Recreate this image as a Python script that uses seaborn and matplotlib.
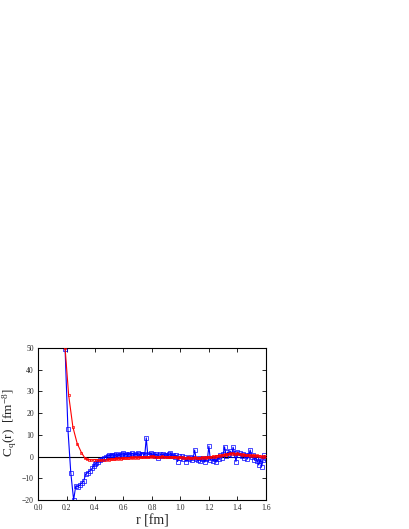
import numpy as np
import pandas as pd
import matplotlib
matplotlib.use('Agg')
import matplotlib.pyplot as plt
import seaborn as sns

# blue series (open squares)
r_blue_head = [0.19, 0.21, 0.23, 0.25, 0.265, 0.28, 0.295, 0.31, 0.32, 0.335, 0.35,
               0.365, 0.38, 0.39, 0.40, 0.41, 0.42, 0.435, 0.45, 0.465, 0.48, 0.49]
c_blue_head = [49.5, 12.5, -7.5, -20.0, -13.5, -14.0, -13.0, -12.0, -11.5, -8.0, -7.5,
               -6.5, -5.5, -4.5, -3.5, -3.0, -2.5, -1.8, -1.0, -0.5, 0.0, 0.3]
c_blue_tail = [0.5, 0.3, 0.8, 0.6, 0.2, 1.0, 0.7, 0.4, 1.2, 0.9,
               1.5, 0.8, 1.1, 0.5, 1.3, 0.9, 1.6, 0.7, 1.2, 0.8,
               1.4, 1.0, 0.6, 1.3, 1.1, 0.8, 8.6, 1.2, 0.9, 1.5,
               0.7, 1.1, 0.4, 1.3, -0.8, 0.6, 1.0, 0.3, 1.2, 0.5,
               0.9, 0.2, 1.0, 1.5, 0.4, 0.8, -0.3, 0.6, -2.3, 0.2,
               -0.5, 0.3, -1.0, -0.4, -2.3, -0.8, -1.2, -0.2, -1.5, -0.6,
               3.0, -1.0, -1.8, -0.7, -2.0, -1.1, -0.5, -2.6, -1.3, -0.8,
               4.8, -1.5, -0.6, -1.9, -1.0, -2.6, -0.4, -1.2, 0.5, -0.8,
               1.0, 4.5, 0.3, 2.0, 1.2, 2.5, 0.8, 4.3, 1.5, -2.3,
               2.0, 0.9, 1.6, 0.4, 1.2, -0.5, 0.8, -1.2, 0.5, 3.0,
               -0.3, 0.6, -1.5, -0.6, -2.0, -3.9, -1.0, -4.6, -1.8, 0.5,
               -0.5]

# red series
r_red_head = [0.19, 0.215, 0.245, 0.275, 0.305, 0.33, 0.345, 0.36, 0.375, 0.39,
              0.405, 0.42, 0.435, 0.45, 0.465, 0.48, 0.49]
c_red_head = [50.0, 28.3, 13.5, 6.0, 1.8, -0.8, -1.3, -1.5, -1.6, -1.5,
              -1.4, -1.6, -1.8, -1.7, -1.5, -1.6, -1.3]
c_red_tail = [-1.4, -1.1, -1.3, -1.0, -1.2, -0.9, -1.1, -0.8, -1.0, -0.7,
              -0.9, -0.6, -0.8, -0.5, -0.7, -0.4, -0.6, -0.4, -0.5, -0.3,
              -0.5, -0.2, -0.4, -0.1, -0.3, -0.1, -0.2, 0.0, -0.2, 0.1,
              -0.1, 0.1, -0.2, 0.0, -0.3, 0.0, -0.2, 0.1, -0.1, 0.0,
              -0.2, 0.0, -0.3, -0.1, -0.2, -0.4, -0.1, -0.3, -0.5, -0.2,
              -0.4, -0.6, -0.3, -0.5, -0.7, -0.4, -0.6, -0.8, -0.5, -0.7,
              -0.4, -0.6, -0.8, -0.5, -0.7, -0.4, -0.6, -0.3, -0.5, -0.2,
              -0.4, 0.0, -0.2, 0.2, 0.0, 0.4, 0.2, 0.6, 0.4, 0.8,
              0.6, 1.0, 0.8, 1.2, 1.0, 1.4, 1.2, 1.5, 1.3, 1.2,
              1.4, 1.0, 1.2, 0.8, 1.0, 0.6, 0.9, 0.5, 0.8, 0.4,
              0.7, 0.3, 0.6, 0.2, 0.5, 0.1, 0.4, 0.0, 0.3, -0.1,
              0.2]

r_tail = np.round(np.arange(0.50, 1.605, 0.01), 2)

blue = pd.DataFrame({'r': list(r_blue_head) + list(r_tail), 'C': c_blue_head + c_blue_tail})
red = pd.DataFrame({'r': list(r_red_head) + list(r_tail), 'C': c_red_head + c_red_tail})

sns.set_style('ticks')
plt.rcParams['font.family'] = ['Liberation Serif', 'DejaVu Serif']
plt.rcParams['mathtext.fontset'] = 'stix'

fig = plt.figure(figsize=(4.09, 5.29), dpi=100)
ax = fig.add_axes([0.093, 0.055, 0.557, 0.287])

ax.axhline(0, color='black', lw=0.8, zorder=1)
sns.lineplot(data=blue, x='r', y='C', ax=ax, color='blue', lw=0.8, marker='s',
             markersize=2.4, markerfacecolor='none', markeredgecolor='blue',
             markeredgewidth=0.5, estimator=None, sort=False, zorder=2)
sns.lineplot(data=red, x='r', y='C', ax=ax, color='red', lw=0.8, marker='s',
             markersize=2, markerfacecolor='none', markeredgecolor='red',
             markeredgewidth=0.5, estimator=None, sort=False, zorder=3)

ax.set_xlim(0, 1.6)
ax.set_ylim(-20, 50)
ax.set_xticks(np.arange(0, 1.61, 0.2))
ax.set_xticklabels(['0.0', '0.2', '0.4', '0.6', '0.8', '1.0', '1.2', '1.4', '1.6'])
ax.set_yticks(range(-20, 51, 10))
ax.tick_params(direction='in', length=3, width=0.7, labelsize=5.5, top=True, right=True, pad=3)
for s in ax.spines.values():
    s.set_linewidth(0.8)
    s.set_color('black')

ax.set_xlabel('r [fm]', fontsize=10, va='center')
ax.xaxis.set_label_coords(0.5, -0.138)
ax.set_ylabel(r'C$_\mathregular{q}$(r)  [fm$^\mathregular{-8}$]', fontsize=9.5, va='center')
ax.yaxis.set_label_coords(-0.125, 0.51)

fig.savefig('out.png', dpi=100)
